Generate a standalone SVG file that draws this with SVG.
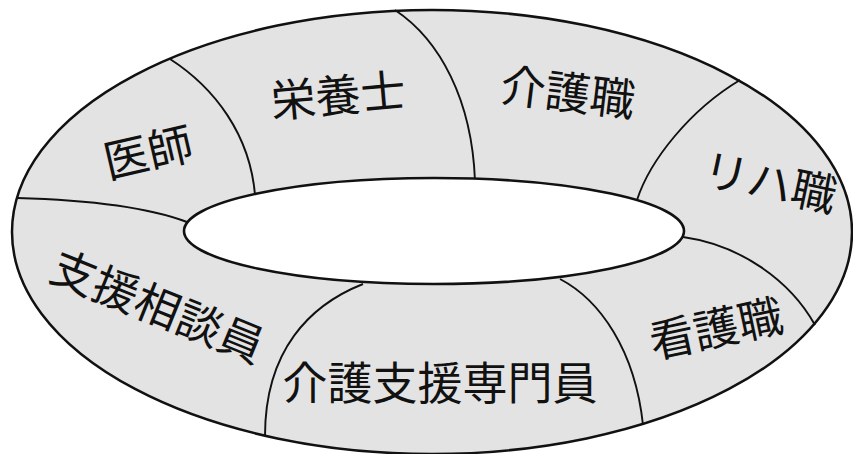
<svg xmlns="http://www.w3.org/2000/svg" width="853" height="454" viewBox="0 0 853 454">
<style>
.ring{fill:#e3e3e3;stroke:none}
.edge{fill:none;stroke:#111111;stroke-width:2.5}
.hole{fill:#ffffff;stroke:#111111;stroke-width:2.6}
.div{fill:none;stroke:#111111;stroke-width:1.9}
.lbl{font-family:"Noto Sans CJK JP","Noto Sans CJK SC",sans-serif;font-size:45px;font-weight:400;fill:#111111;text-anchor:middle}
</style>
<rect width="853" height="454" fill="#ffffff"/>
<ellipse class="ring" cx="432" cy="232" rx="420" ry="222"/>
<g id="connectors">
<path class="div" d="M170,59 C215,88 250,135 255,195"/>
<path class="div" d="M395,10 C440,40 472,100 475,181"/>
<path class="div" d="M740,80 C690,110 650,160 637,200"/>
<path class="div" d="M683,237 C740,245 790,280 815,325"/>
<path class="div" d="M560,279 C600,300 635,350 643,425"/>
<path class="div" d="M363,284 C310,305 265,350 265,436"/>
<path class="div" d="M17,198 C90,200 150,208 187,222"/>
</g>
<ellipse class="hole" cx="434" cy="231" rx="250" ry="53"/>
<ellipse class="edge" cx="432" cy="232" rx="420" ry="222"/>
<g id="ishi" transform="translate(148,152) rotate(-13)"><text class="lbl" y="17">医師</text></g>
<g id="eiyoushi" transform="translate(338,95) rotate(-5)"><text class="lbl" y="17">栄養士</text></g>
<g id="kaigoshoku" transform="translate(568,92) rotate(7)"><text class="lbl" y="17">介護職</text></g>
<g id="rihashoku" transform="translate(770,182) rotate(12)"><text class="lbl" y="17">リハ職</text></g>
<g id="kangoshoku" transform="translate(716,328) rotate(-12)"><text class="lbl" y="17">看護職</text></g>
<g id="kaigoshien" transform="translate(440,383)"><text class="lbl" y="17">介護支援専門員</text></g>
<g id="shiensoudan" transform="translate(158,306) rotate(22)"><text class="lbl" y="17">支援相談員</text></g>
</svg>
